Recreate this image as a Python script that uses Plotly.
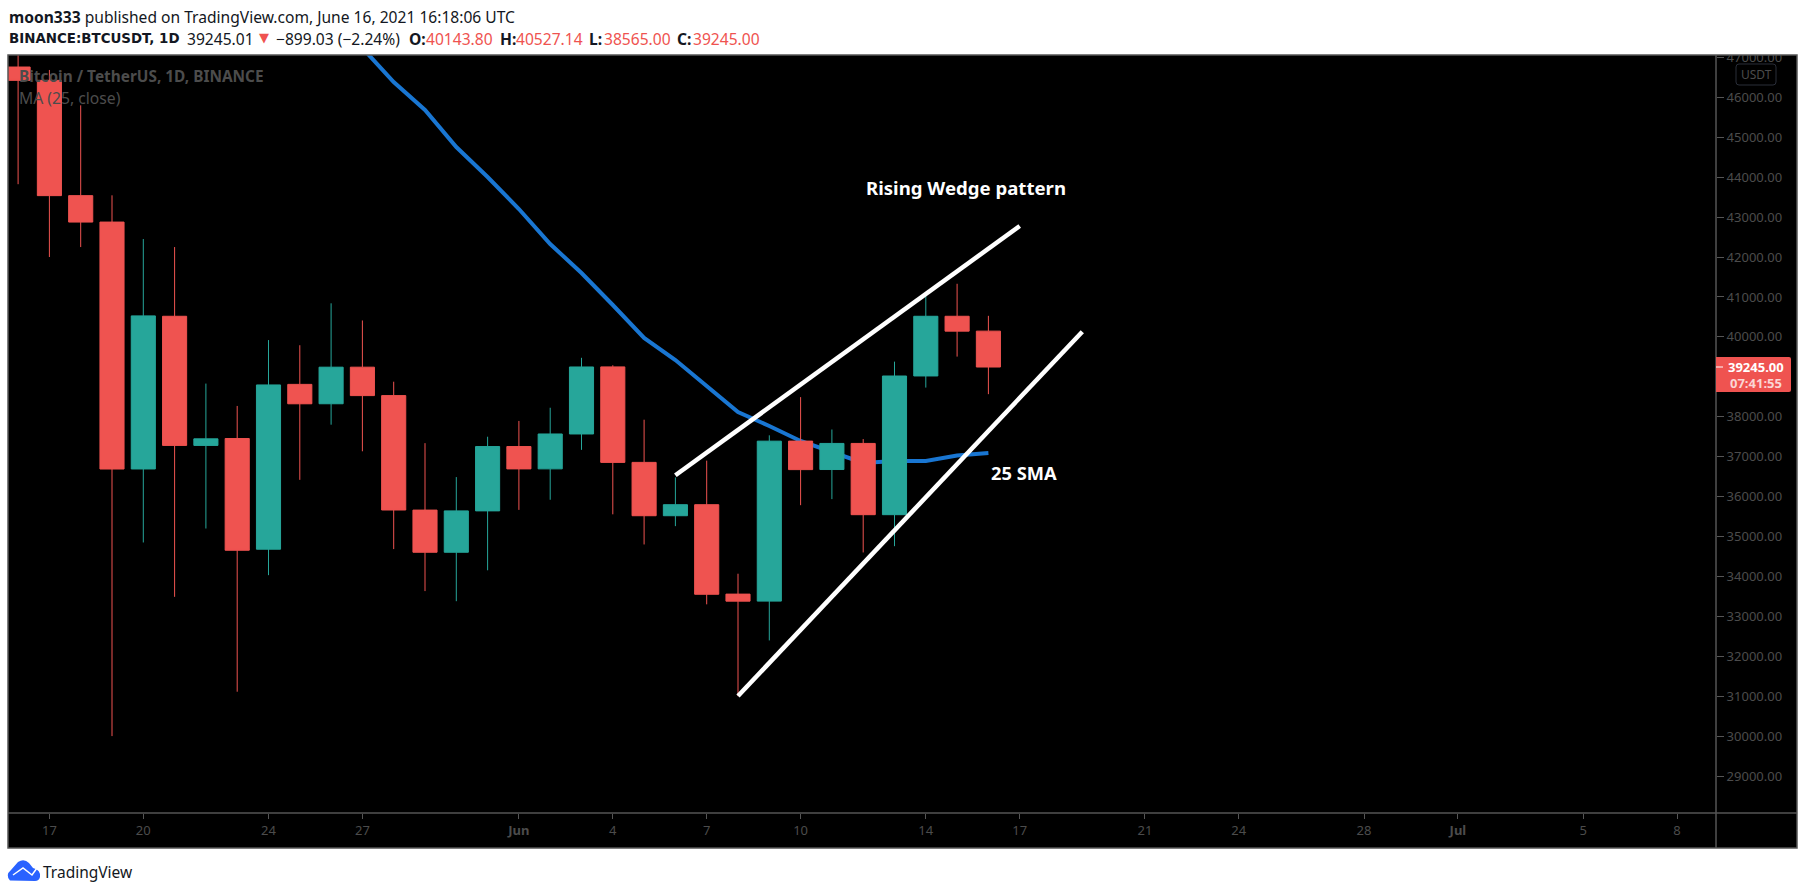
import pandas as pd
import plotly.graph_objects as go

# ---------- data ----------
dates = pd.date_range("2021-05-16", periods=32).strftime("%Y-%m-%d").tolist()
opens = [46760, 46426, 43538, 42876, 36691, 40516, 37281, 37454, 34681, 38810, 38325, 39241,
         38529, 35661, 34605, 35641, 37253, 36694, 37568, 39248, 36856, 35520, 35796, 33556,
         33381, 37389, 36677, 37331, 35546, 39021, 40516, 40144]
highs = [49800, 46686, 45800, 43546, 42451, 42250, 38830, 38270, 39920, 39791, 40841, 40411,
         38877, 37338, 36488, 37499, 37894, 38225, 39476, 39289, 37925, 36480, 36900, 34067,
         37534, 38491, 37680, 37440, 39380, 41064, 41330, 40527]
lows = [43825, 42001, 42250, 30000, 34850, 33488, 35200, 31111, 34031, 36419, 37800, 37134,
        34684, 33632, 33379, 34153, 35666, 35920, 37170, 35555, 34800, 35259, 33300, 31000,
        32396, 35784, 35936, 34600, 34757, 38730, 39506, 38565]
closes = [46426, 43538, 42876, 36690, 40526, 37281, 37446, 34655, 38796, 38324, 39241, 38529,
          35663, 34605, 35641, 37253, 36693, 37568, 39246, 36856, 35520, 35796, 33552, 33380,
          37388, 36675, 37331, 35546, 39020, 40516, 40144, 39245]

sma_dates = dates[11:]
sma_values = [47236, 46385, 45683, 44756, 44005, 43203, 42327, 41600, 40799, 39972, 39421,
              38770, 38118, 37768, 37392, 37116, 36841, 36891, 36891, 37029, 37091]

upper_dates = ["2021-06-06", "2021-06-17"]
upper_prices = [36533, 42777]
lower_dates = ["2021-06-08", "2021-06-19"]
lower_prices = [31004, 40130]

# 39000 sits behind the last-price tag in the reference, so it has no visible label
price_ticks = [v for v in range(29000, 48000, 1000) if v != 39000]
date_ticks = ["2021-05-17", "2021-05-20", "2021-05-24", "2021-05-27", "2021-06-01", "2021-06-04",
              "2021-06-07", "2021-06-10", "2021-06-14", "2021-06-17", "2021-06-21", "2021-06-24",
              "2021-06-28", "2021-07-01", "2021-07-05", "2021-07-08"]
date_labels = ["17", "20", "24", "27", "<b>Jun</b>", "4", "7", "10", "14", "17", "21", "24", "28",
               "<b>Jul</b>", "5", "8"]

# ---------- geometry ----------
W, H = 1805, 895
L, R, T, B = 8, 1716, 55, 813
FRAME_R, FRAME_B = 1797, 848
UP, DOWN = "#26a69a", "#ef5350"
GREY = "#555555"
TXT = "#4c4c4c"
INK = "#131722"
FONT = "Noto Sans"


def px(x):
    return (x - L) / (R - L)


def py(y):
    return 1 - (y - T) / (B - T)


def path_px(d):
    out = []
    isx = True
    for tok in d.split():
        try:
            v = float(tok)
        except ValueError:
            out.append(tok)
            continue
        out.append(f"{px(v) if isx else py(v):.6f}")
        isx = not isx
    return " ".join(out)


def rect(x0, y0, x1, y1, fill=None, line=None, width=1, layer="above"):
    return dict(type="rect", xref="paper", yref="paper", x0=px(x0), x1=px(x1), y0=py(y0), y1=py(y1),
                fillcolor=fill if fill else "rgba(0,0,0,0)",
                line=dict(color=line if line else "rgba(0,0,0,0)", width=width if line else 0),
                layer=layer)


def hline(x0, x1, y, color=GREY, width=1):
    return dict(type="line", xref="paper", yref="paper", x0=px(x0), x1=px(x1), y0=py(y), y1=py(y),
                line=dict(color=color, width=width), layer="above")


def vline(x, y0, y1, color=GREY, width=1):
    return dict(type="line", xref="paper", yref="paper", x0=px(x), x1=px(x), y0=py(y0), y1=py(y1),
                line=dict(color=color, width=width), layer="above")


def note(x, y, text, size=14, color=INK, anchor="left", family=FONT):
    # annotations carry about 2 px of padding; x is where the glyphs should begin
    shift = -2 if anchor == "left" else 0
    return dict(xref="paper", yref="paper", x=px(x + shift), y=py(y), text=text, showarrow=False,
                xanchor=anchor, yanchor="middle", align="left",
                font=dict(family=family, size=size, color=color))


# ---------- figure ----------
fig = go.Figure()
# The average sits on the main axes so that the candles, on an overlay, cover it
fig.add_trace(go.Scatter(x=sma_dates, y=sma_values, mode="lines",
                         line=dict(color="#1976d2", width=4), showlegend=False))
fig.add_trace(go.Candlestick(
    x=dates, open=opens, high=highs, low=lows, close=closes, whiskerwidth=0,
    increasing=dict(line=dict(color=UP, width=1), fillcolor=UP),
    decreasing=dict(line=dict(color=DOWN, width=1), fillcolor=DOWN),
    showlegend=False, xaxis="x2", yaxis="y2"))
for xs, ys in ((upper_dates, upper_prices), (lower_dates, lower_prices)):
    fig.add_trace(go.Scatter(x=xs, y=ys, mode="lines", line=dict(color="#ffffff", width=4.5),
                             showlegend=False, xaxis="x2", yaxis="y2"))

PER_DAY = 31.3
x0_date = pd.Timestamp("2021-05-17")
x_lo = x0_date + pd.Timedelta(days=(L - 49.4) / PER_DAY)
x_hi = x0_date + pd.Timedelta(days=(R - 49.4) / PER_DAY)
y_lo = 29000 + (776 - B) / 0.03992
y_hi = 29000 + (776 - T) / 0.03992

shapes = [
    rect(L, T, FRAME_R, FRAME_B, fill="#000000", layer="below"),
    rect(R, 0, W, T, fill="#ffffff"),
    rect(L, T, FRAME_R, FRAME_B, line=GREY, width=1.5),
    vline(R, T, FRAME_B, width=1.5),
    hline(L, FRAME_R, B, width=1.5),
    # USDT badge
    dict(type="path", xref="paper", yref="paper",
         path=path_px("M 1739 64 L 1773 64 Q 1776 64 1776 67 L 1776 82 Q 1776 85 1773 85 "
                      "L 1739 85 Q 1736 85 1736 82 L 1736 67 Q 1736 64 1739 64 Z"),
         line=dict(color="#2a2e39", width=1), fillcolor="#000000", layer="above"),
    # last price tag
    dict(type="path", xref="paper", yref="paper",
         path=path_px("M 1716 357 L 1789 357 Q 1791 357 1791 359 L 1791 390 Q 1791 392 1789 392 "
                      "L 1716 392 Z"),
         line=dict(width=0), fillcolor=DOWN, layer="above"),
    hline(R, R + 7, 367, color="#ffffff"),
    # TradingView logo
    dict(type="path", xref="paper", yref="paper",
         path=path_px("M 10 880.5 Q 5 875 11 870 L 18 862 Q 24 858 29 863 L 33 868 Q 41 870 40 877 "
                      "Q 39 881 35 881 Z"),
         line=dict(width=0), fillcolor="#2962ff", layer="above"),
    dict(type="path", xref="paper", yref="paper",
         path=path_px("M 13 875 L 23 868 L 32 875 L 37 868"),
         line=dict(color="#ffffff", width=1.5), layer="above"),
]

HEAD = 15.6
annotations = [
    note(9, 17, "<b>moon333</b> published on TradingView.com, June 16, 2021 16:18:06 UTC", size=HEAD),
    note(9, 39, "<b>BINANCE:BTCUSDT, 1D</b>", size=13.4, family="DejaVu Sans"),
    note(187, 39, "39245.01", size=HEAD),
    note(259, 38, "▼", size=13, color=DOWN, family="DejaVu Sans"),
    note(276, 39, "−899.03 (−2.24%)", size=HEAD),
    note(409, 39, "<b>O:</b>", size=HEAD),
    note(426, 39, "40143.80", size=HEAD, color=DOWN),
    note(500, 39, "<b>H:</b>", size=HEAD),
    note(516, 39, "40527.14", size=HEAD, color=DOWN),
    note(589, 39, "<b>L:</b>", size=HEAD),
    note(604, 39, "38565.00", size=HEAD, color=DOWN),
    note(676.5, 39, "<b>C:</b>", size=HEAD),
    note(693, 39, "39245.00", size=HEAD, color=DOWN),
    note(19, 77, "<b>Bitcoin / TetherUS, 1D, BINANCE</b>", size=15.4, color=TXT),
    note(19, 98, "MA (25, close)", size=15.7, color=TXT),
    note(866, 188, "<b>Rising Wedge pattern</b>", size=18.6, color="#ffffff"),
    note(991, 472, "<b>25 SMA</b>", size=18.3, color="#ffffff"),
    note(1756, 74.5, "USDT", size=12, color=TXT, anchor="center"),
    note(1755.5, 367, "<b>39245.00</b>", size=13, color="#ffffff", anchor="center"),
    note(1755.5, 383, "<b>07:41:55</b>", size=13, color="#fbd5d4", anchor="center"),
    note(43, 872, "TradingView", size=15.5),
]

fig.update_layout(
    width=W, height=H,
    margin=dict(l=L, r=W - R, t=T, b=H - B, pad=0, autoexpand=False),
    paper_bgcolor="#ffffff", plot_bgcolor="#000000",
    boxgap=0.23, boxgroupgap=0, showlegend=False, shapes=shapes, annotations=annotations,
    font=dict(family=FONT),
    xaxis=dict(type="date", range=[x_lo, x_hi], rangeslider=dict(visible=False), showgrid=False,
               zeroline=False, showline=False, tickmode="array", tickvals=date_ticks,
               ticktext=date_labels, ticks="outside", ticklen=5, tickwidth=1, tickcolor=GREY,
               tickfont=dict(family=FONT, size=13, color=TXT), tickangle=0),
    yaxis=dict(side="right", range=[y_lo, y_hi],
               showgrid=False, zeroline=False, showline=False, tickmode="array",
               tickvals=price_ticks, ticktext=[f"{v}.00" for v in price_ticks], ticks="outside",
               ticklen=7, tickwidth=1, tickcolor=GREY,
               tickfont=dict(family=FONT, size=13, color=TXT)),
    xaxis2=dict(type="date", range=[x_lo, x_hi], overlaying="x", visible=False,
                rangeslider=dict(visible=False)),
    yaxis2=dict(range=[y_lo, y_hi], overlaying="y", side="right", visible=False),
)

fig.write_html("out.html", config=dict(displayModeBar=False),
               post_script="document.body.style.margin='0';document.body.style.overflow='hidden';")
